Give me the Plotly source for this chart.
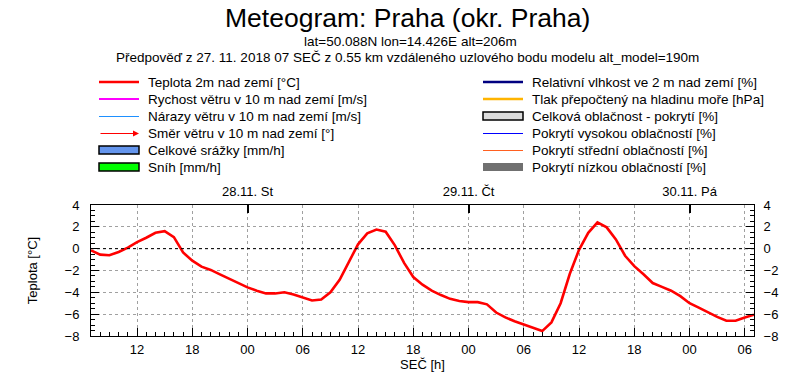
import plotly.graph_objects as go
import pandas as pd

# ---------------- data ----------------
start_time = "2018-11-27 07:00"
temperature = [
    -0.15, -0.55, -0.6, -0.3, 0.1, 0.6, 1.0, 1.45, 1.6, 1.05, -0.35, -1.1,
    -1.65, -1.95, -2.35, -2.75, -3.15, -3.55, -3.85, -4.1, -4.1, -4.0, -4.2, -4.5,
    -4.75, -4.65, -4.0, -2.85, -1.2, 0.4, 1.4, 1.75, 1.55, 0.3, -1.3, -2.6,
    -3.3, -3.85, -4.25, -4.6, -4.8, -4.9, -4.9, -5.1, -5.85, -6.3, -6.65, -6.95,
    -7.3, -7.55, -6.75, -5.0, -2.3, -0.1, 1.45, 2.4, 1.95, 0.85, -0.65, -1.6,
    -2.35, -3.15, -3.5, -3.85, -4.35, -5.0, -5.4, -5.85, -6.25, -6.6, -6.6, -6.3,
    -6.05,
]
times = pd.date_range(start_time, periods=len(temperature), freq="h")
x_range = ["2018-11-27 07:00", "2018-11-30 07:00"]
day_ticks = ["2018-11-28 00:00", "2018-11-29 00:00", "2018-11-30 00:00"]
day_labels = ["28.11. St", "29.11. Čt", "30.11. Pá"]
y_range = [-8, 4]

title = "Meteogram: Praha (okr. Praha)"
subtitle1 = "lat=50.088N lon=14.426E alt=206m"
subtitle2 = "Předpověď z 27. 11. 2018 07 SEČ z 0.55 km vzdáleného uzlového bodu modelu alt_model=190m"

legend_left = [
    ("Teplota 2m nad zemí [°C]", "line", "#ff0000", 2.5),
    ("Rychost větru v 10 m nad zemí [m/s]", "line", "#ff00ff", 2),
    ("Nárazy větru v 10 m nad zemí [m/s]", "line", "#1e90ff", 1),
    ("Směr větru v 10 m nad zemí [°]", "arrow", "#ff0000", 1),
    ("Celkové srážky [mm/h]", "box", "#6495ed", 1),
    ("Sníh [mm/h]", "box", "#00ff00", 1),
]
legend_right = [
    ("Relativní vlhkost ve 2 m nad zemí [%]", "line", "#000080", 2.5),
    ("Tlak přepočtený na hladinu moře [hPa]", "line", "#ffb400", 2.5),
    ("Celková oblačnost - pokrytí [%]", "box", "#dcdcdc", 1),
    ("Pokrytí vysokou oblačností [%]", "line", "#0000ff", 1),
    ("Pokrytí střední oblačností [%]", "line", "#ff6020", 1),
    ("Pokrytí nízkou oblačností [%]", "fill", "#707070", 0),
]

# ---------------- layout geometry ----------------
W, H = 807, 377
L, R, T, B = 91, 754, 205, 336
FONT = "Liberation Sans, Arial, sans-serif"


def px(xp):
    """window pixel x -> paper coordinate"""
    return (xp - L) / (R - L)


def py(yp):
    """window pixel y -> paper coordinate"""
    return (B - yp) / (B - T)


fig = go.Figure()
fig.add_trace(go.Scatter(x=times, y=temperature, mode="lines",
                         line=dict(color="#ff0000", width=2.6),
                         showlegend=False, hoverinfo="x+y"))
# helper trace to activate the mirrored axes
fig.add_trace(go.Scatter(x=times, y=temperature, mode="lines", xaxis="x2", yaxis="y2",
                         line=dict(color="rgba(0,0,0,0)", width=0),
                         showlegend=False, hoverinfo="skip"))

grid = dict(showgrid=True, gridcolor="#a0a0a0", gridwidth=1, griddash="3px,3px")

fig.update_layout(
    width=W, height=H,
    margin=dict(l=L, r=W - R, t=T, b=H - B, autoexpand=False),
    paper_bgcolor="white", plot_bgcolor="white",
    font=dict(family=FONT, size=13, color="black"),
    xaxis=dict(type="date", range=x_range, tick0="2018-11-27 00:00", dtick=21600000,
               tickformat="%H", ticks="inside", ticklen=8, tickcolor="black",
               showline=True, linecolor="black", linewidth=1, mirror=False,
               minor=dict(dtick=3600000, ticks="inside", ticklen=4, tickcolor="black", showgrid=False),
               ticklabelstandoff=1,
               title=dict(text="SEČ [h]", standoff=0, font=dict(size=13)),
               zeroline=False, **grid),
    xaxis2=dict(type="date", overlaying="x", side="top", matches="x", range=x_range,
                tickvals=day_ticks, ticktext=day_labels, ticks="inside", ticklen=8,
                tickwidth=1.5, tickcolor="black", showline=True, linecolor="black",
                linewidth=1, showgrid=False, zeroline=False, ticklabelstandoff=3),
    yaxis=dict(range=y_range, dtick=2, ticks="inside", ticklen=8, tickcolor="black",
               showline=True, linecolor="black", linewidth=1,
               minor=dict(dtick=0.5, ticks="inside", ticklen=4, tickcolor="black", showgrid=False),
               ticklabelstandoff=8,
               title=dict(text="Teplota [°C]", standoff=24, font=dict(size=13)),
               zeroline=False, **grid),
    yaxis2=dict(range=y_range, overlaying="y", side="right", matches="y", dtick=2,
                ticks="inside", ticklen=8, tickcolor="black",
                showline=True, linecolor="black", linewidth=1,
                minor=dict(dtick=0.5, ticks="inside", ticklen=4, tickcolor="black", showgrid=False),
                ticklabelstandoff=6, showgrid=False, zeroline=False),
    showlegend=False,
)

# zero reference line
fig.add_shape(type="line", xref="paper", yref="y", x0=0, x1=1, y0=0, y1=0,
              line=dict(color="black", width=1, dash="dot"))

# titles
fig.add_annotation(text=title, x=px(407), y=py(18), xref="paper", yref="paper",
                   showarrow=False, xanchor="center", yanchor="middle",
                   font=dict(size=26.5, family=FONT))
fig.add_annotation(text=subtitle1, x=px(410), y=py(41), xref="paper", yref="paper",
                   showarrow=False, xanchor="center", yanchor="middle",
                   font=dict(size=13.5, family=FONT))
fig.add_annotation(text=subtitle2, x=px(407), y=py(57), xref="paper", yref="paper",
                   showarrow=False, xanchor="center", yanchor="middle",
                   font=dict(size=13.5, family=FONT))

# custom legend
row_y = [82, 99, 116, 133, 150, 167]


def legend_column(items, x0, x1, xt):
    for (label, kind, color, width), yc in zip(items, row_y):
        if kind == "line":
            yl = yc + 0.5 if width <= 1 else yc
            fig.add_shape(type="line", xref="paper", yref="paper", x0=px(x0), x1=px(x1),
                          y0=py(yl), y1=py(yl), line=dict(color=color, width=width))
        elif kind == "arrow":
            fig.add_annotation(x=px(x1), y=py(yc + 0.5), xref="paper", yref="paper", text="",
                               showarrow=True, ax=-(x1 - x0), ay=0, arrowhead=2,
                               arrowsize=1.2, arrowwidth=1, arrowcolor=color)
        elif kind == "box":
            fig.add_shape(type="rect", xref="paper", yref="paper", x0=px(x0), x1=px(x1),
                          y0=py(yc + 4), y1=py(yc - 4), fillcolor=color,
                          line=dict(color="black", width=1.5))
        elif kind == "fill":
            fig.add_shape(type="rect", xref="paper", yref="paper", x0=px(x0), x1=px(x1),
                          y0=py(yc + 4), y1=py(yc - 4), fillcolor=color,
                          line=dict(width=0))
        fig.add_annotation(text=label, x=px(xt), y=py(yc), xref="paper", yref="paper",
                           showarrow=False, xanchor="left", yanchor="middle",
                           font=dict(size=13.5, family=FONT))


legend_column(legend_left, 99, 139, 146)
legend_column(legend_right, 483, 523, 530)

# remove the default 8px page margin so the figure fills the window exactly
fig.write_html("out.html", config={"displayModeBar": False},
               post_script="document.body.style.margin='0';")
